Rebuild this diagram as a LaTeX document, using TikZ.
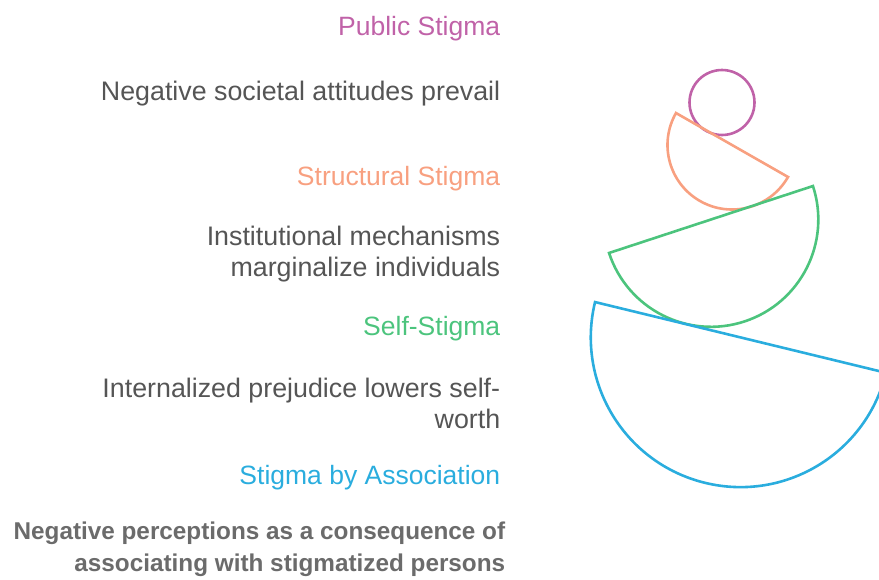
\documentclass[tikz,border=0pt]{standalone}
\usepackage{fontspec}
\setmainfont{Liberation Sans}
\usepackage{tikz}

\definecolor{pubcol}{HTML}{C062A8}
\definecolor{strcol}{HTML}{F8A080}
\definecolor{selfcol}{HTML}{4CC47D}
\definecolor{asscol}{HTML}{2AADDE}
\definecolor{txtcol}{HTML}{555555}
\definecolor{boldcol}{HTML}{6B6B6B}

\begin{document}
\begin{tikzpicture}[x=1pt,y=-1pt,line width=2.6pt,
                    every node/.style={anchor=east,inner sep=0pt,align=right}]

  \tikzstyle{title}=[font=\fontsize{26.5}{31}\selectfont]
  \tikzstyle{desc}=[font=\fontsize{26.8}{31}\selectfont,text=txtcol]
  \tikzstyle{bowl}=[line join=miter]

  \useasboundingbox (0,0) rectangle (879,579);

  % labels on the left
  \node[title,text=pubcol]  (PUB)  at (501.5,29)  {Public Stigma};
  \node[desc]               (PUBd) at (501.5,94)  {Negative societal attitudes prevail};
  \node[title,text=strcol]  (STR)  at (501.5,179) {Structural Stigma};
  \node[desc]               (STRd) at (501.5,254) {Institutional mechanisms\\ marginalize individuals};
  \node[title,text=selfcol] (SLF)  at (501.5,329) {Self-Stigma};
  \node[desc]               (SLFd) at (501.5,403) {Internalized prejudice lowers self-\\ worth};
  \node[title,text=asscol]  (ASS)  at (501.5,478) {Stigma by Association};
  \node[desc,text=boldcol,font=\fontsize{24.3}{32}\selectfont\bfseries]
                            (ASSd) at (506.5,549) {Negative perceptions as a consequence of\\ associating with stigmatized persons};

  % stacked shapes on the right
  \draw[pubcol] (722,102.5) circle (32.5);
  \draw[bowl,strcol]  (732,145)   ++(29.74:64.5)  arc (29.74:209.74:64.5)  -- cycle;
  \draw[bowl,selfcol] (711,219.5) ++(-18.18:107.3) arc (-18.18:161.82:107.3) -- cycle;
  \draw[bowl,asscol]  (740.5,337.4) ++(13.66:149.7) arc (13.66:193.66:149.7) -- cycle;
\end{tikzpicture}
\end{document}
